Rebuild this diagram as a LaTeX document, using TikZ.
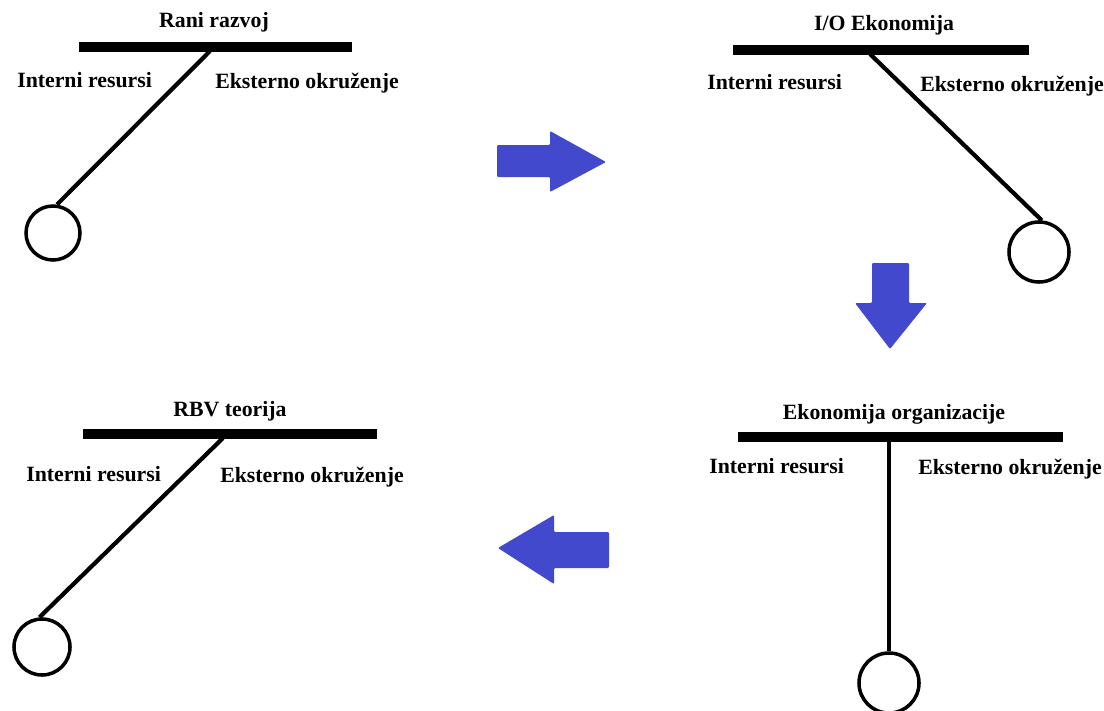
\documentclass[tikz,border=0pt]{standalone}
\usepackage{fontspec}
\setmainfont{Liberation Serif}
\usetikzlibrary{positioning}
\definecolor{arrowblue}{RGB}{66,73,204}
\tikzset{
	bar/.style={line width=7.8pt},
	stick/.style={line width=3pt},
	bob/.style={circle, draw, line width=2.5pt, minimum size=#1, inner sep=0pt},
	lbl/.style={font=\fontsize{15.5}{18}\selectfont\bfseries, inner sep=0pt},
	bigarrow/.style={fill=arrowblue, rounded corners=0.8pt}
}
\begin{document}
\begin{tikzpicture}[x=0.025cm, y=-0.025cm]
			\useasboundingbox (0,0) rectangle (1104,710);
			
			\node[lbl, anchor=base] (t1) at (214,27) {Rani razvoj};
			\coordinate (b1l) at (79,47);
			\coordinate (b1r) at (352,47);
			\draw[bar] (b1l) -- (b1r);
			\coordinate (s1) at (210,51);
			\node[bob=1.35cm] (c1) at (53,233) {};
			\draw[stick] (s1) -- (c1.82);
			\node[lbl, anchor=base west] (i1) at (17,87) {Interni resursi};
			\node[lbl, anchor=base west] (e1) at (215,88) {Eksterno okruženje};
			
			\node[lbl, anchor=base] (t2) at (884,30) {I/O Ekonomija};
			\coordinate (b2l) at (733,50);
			\coordinate (b2r) at (1029,50);
			\draw[bar] (b2l) -- (b2r);
			\coordinate (s2) at (870,54);
			\node[bob=1.5cm] (c2) at (1039,252) {};
			\draw[stick] (s2) -- (c2.85);
			\node[lbl, anchor=base west] (i2) at (707,89) {Interni resursi};
			\node[lbl, anchor=base west] (e2) at (920,91) {Eksterno okruženje};
			
			\node[lbl, anchor=base] (t3) at (230,416) {RBV teorija};
			\coordinate (b3l) at (83,434);
			\coordinate (b3r) at (377,434);
			\draw[bar] (b3l) -- (b3r);
			\coordinate (s3) at (223,438);
			\node[bob=1.4cm] (c3) at (42,647) {};
			\draw[stick] (s3) -- (c3.95);
			\node[lbl, anchor=base west] (i3) at (26,481) {Interni resursi};
			\node[lbl, anchor=base west] (e3) at (220,482) {Eksterno okruženje};
			
			\node[lbl, anchor=base] (t4) at (894,419) {Ekonomija organizacije};
			\coordinate (b4l) at (738,437);
			\coordinate (b4r) at (1063,437);
			\draw[bar] (b4l) -- (b4r);
			\coordinate (s4) at (889,441);
			\node[bob=1.5cm] (c4) at (889,683) {};
			\draw[stick] (s4) -- (c4);
			\node[lbl, anchor=base west] (i4) at (709,473) {Interni resursi};
			\node[lbl, anchor=base west] (e4) at (918,474) {Eksterno okruženje};
			
			% arrows between the stages
			\fill[bigarrow] (497,145) -- (550,145) -- (550,131) -- (606,162) -- (550,192) -- (550,177) -- (497,177) -- cycle;
			\fill[bigarrow] (872,263) -- (909,263) -- (909,303) -- (927,303) -- (890,349) -- (855,303) -- (872,303) -- cycle;
			\fill[bigarrow] (609,532) -- (554,532) -- (554,515) -- (498,548) -- (554,584) -- (554,568) -- (609,568) -- cycle;
			
\end{tikzpicture}
\end{document}
